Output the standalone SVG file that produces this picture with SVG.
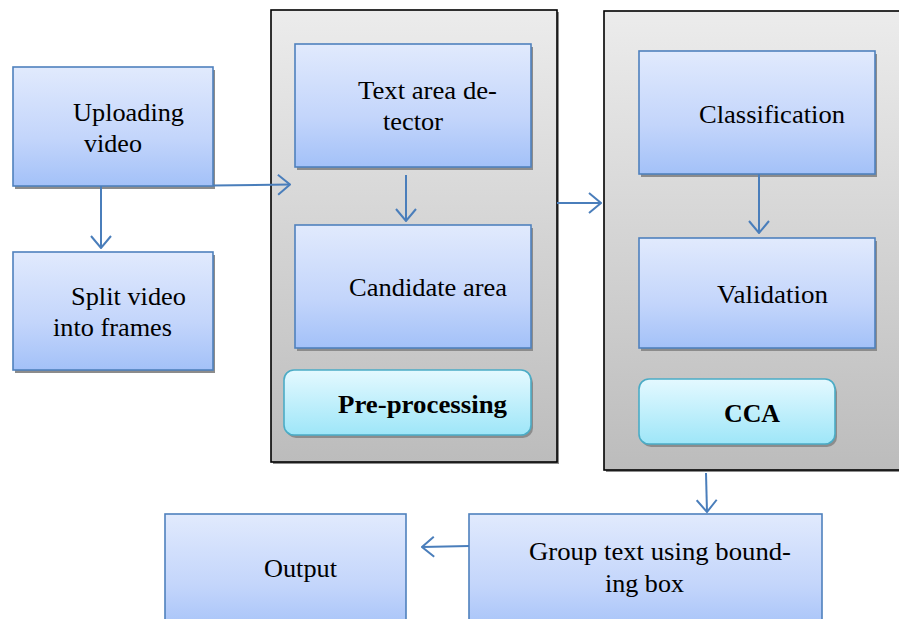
<svg xmlns="http://www.w3.org/2000/svg" width="899" height="619" viewBox="0 0 899 619">
<style>
text{font-family:"Liberation Serif","Times New Roman",Times,"DejaVu Serif",serif;font-size:26px;fill:#000}
.b{font-weight:bold}
.blue{fill:url(#gBlue);stroke:#4f81bd;stroke-width:1.6}
.cyan{fill:url(#gCyan);stroke:#4bacc6;stroke-width:1.6}
.outer{fill:url(#gGray);stroke:#000;stroke-width:1.6}
.sh{fill:#8c8c8c}
.c{fill:none;stroke:#4a7ebb;stroke-width:2}
</style>
<defs>
<linearGradient id="gBlue" x1="0" y1="0" x2="0" y2="1"><stop offset="0" stop-color="#e1eafd"/><stop offset="0.6" stop-color="#c3d5fb"/><stop offset="1" stop-color="#a3c1f8"/></linearGradient>
<linearGradient id="gCyan" x1="0" y1="0" x2="0" y2="1"><stop offset="0" stop-color="#e4f9ff"/><stop offset="1" stop-color="#9ee6f8"/></linearGradient>
<linearGradient id="gGray" x1="0" y1="0" x2="0" y2="1"><stop offset="0" stop-color="#ececec"/><stop offset="1" stop-color="#bcbcbc"/></linearGradient>
<marker id="arr" markerUnits="userSpaceOnUse" viewBox="0 0 14 22" refX="13" refY="11" markerWidth="14" markerHeight="22" orient="auto"><path d="M1,1 L13,11 L1,21" fill="none" stroke="#4a7ebb" stroke-width="2"/></marker>
</defs>

<g id="preprocessing-group">
<rect class="sh" x="273" y="12" width="286" height="452"/>
<rect class="outer" x="271" y="10" width="286" height="452"/>
</g>
<g id="cca-group">
<rect class="sh" x="606" y="13" width="300" height="459"/>
<rect class="outer" x="604" y="11" width="300" height="459"/>
</g>

<g id="uploading-video">
<rect class="sh" x="15" y="70" width="200" height="119"/>
<rect class="blue" x="13" y="67" width="200" height="119"/>
<text x="73" y="121" font-family="Liberation Serif" textLength="111" lengthAdjust="spacingAndGlyphs">Uploading</text>
<text x="84" y="152" font-family="Liberation Serif" textLength="58" lengthAdjust="spacingAndGlyphs">video</text>
</g>
<g id="split-video">
<rect class="sh" x="15" y="255" width="200" height="118"/>
<rect class="blue" x="13" y="252" width="200" height="118"/>
<text x="71" y="305" font-family="Liberation Serif" textLength="115" lengthAdjust="spacingAndGlyphs">Split video</text>
<text x="53" y="336" font-family="Liberation Serif" textLength="119" lengthAdjust="spacingAndGlyphs">into frames</text>
</g>
<g id="text-area-detector">
<rect class="sh" x="297" y="47" width="236" height="123"/>
<rect class="blue" x="295" y="44" width="236" height="123"/>
<text x="358" y="99" font-family="Liberation Serif" textLength="139" lengthAdjust="spacingAndGlyphs">Text area de-</text>
<text x="383" y="130" font-family="Liberation Serif" textLength="60" lengthAdjust="spacingAndGlyphs">tector</text>
</g>
<g id="candidate-area">
<rect class="sh" x="297" y="228" width="236" height="123"/>
<rect class="blue" x="295" y="225" width="236" height="123"/>
<text x="349" y="296" font-family="Liberation Serif" textLength="158" lengthAdjust="spacingAndGlyphs">Candidate area</text>
</g>
<g id="pre-processing">
<rect class="sh" x="286" y="373" width="247" height="65" rx="10"/>
<rect class="cyan" x="284" y="370" width="247" height="65" rx="10"/>
<text class="b" x="338" y="413" font-family="Liberation Serif" textLength="169" lengthAdjust="spacingAndGlyphs">Pre-processing</text>
</g>
<g id="classification">
<rect class="sh" x="641" y="54" width="236" height="123"/>
<rect class="blue" x="639" y="51" width="236" height="123"/>
<text x="699" y="123" font-family="Liberation Serif" textLength="146" lengthAdjust="spacingAndGlyphs">Classification</text>
</g>
<g id="validation">
<rect class="sh" x="641" y="241" width="236" height="110"/>
<rect class="blue" x="639" y="238" width="236" height="110"/>
<text x="717" y="303" font-family="Liberation Serif" textLength="111" lengthAdjust="spacingAndGlyphs">Validation</text>
</g>
<g id="cca">
<rect class="sh" x="641" y="382" width="196" height="65" rx="10"/>
<rect class="cyan" x="639" y="379" width="196" height="65" rx="10"/>
<text class="b" x="724" y="422" font-family="Liberation Serif" textLength="56" lengthAdjust="spacingAndGlyphs">CCA</text>
</g>
<g id="group-text">
<rect class="blue" x="469" y="514" width="353" height="120"/>
<text x="529" y="560" font-family="Liberation Serif" textLength="262" lengthAdjust="spacingAndGlyphs">Group text using bound-</text>
<text x="605" y="592" font-family="Liberation Serif" textLength="79" lengthAdjust="spacingAndGlyphs">ing box</text>
</g>
<g id="output">
<rect class="blue" x="165" y="514" width="241" height="120"/>
<text x="264" y="577" font-family="Liberation Serif" textLength="73" lengthAdjust="spacingAndGlyphs">Output</text>
</g>

<g id="connectors">
<path class="c" d="M213,185.5 L290,184.5" marker-end="url(#arr)"/>
<path class="c" d="M101,186 L101,248" marker-end="url(#arr)"/>
<path class="c" d="M406,175 L406,221" marker-end="url(#arr)"/>
<path class="c" d="M557,203 L601,203" marker-end="url(#arr)"/>
<path class="c" d="M759,174 L759,233" marker-end="url(#arr)"/>
<path class="c" d="M706,473 L707,512" marker-end="url(#arr)"/>
<path class="c" d="M469,546 L422,547" marker-end="url(#arr)"/>
</g>
</svg>
